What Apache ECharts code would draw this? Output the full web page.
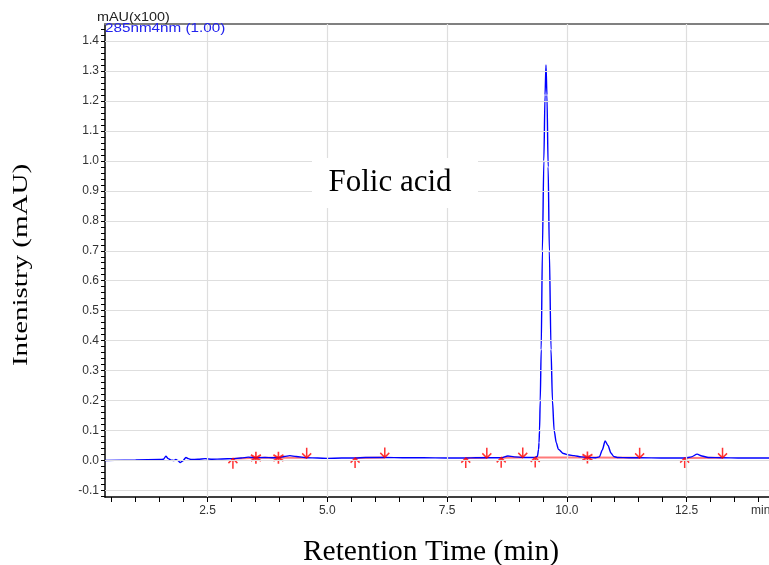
<!DOCTYPE html>
<html><head><meta charset="utf-8">
<script src="https://cdn.jsdelivr.net/npm/echarts@6/dist/echarts.min.js"></script>
<style>html,body{margin:0;padding:0;background:#fff}#c{width:769px;height:565px}</style>
</head><body><div id="c"></div>
<script>
// Chromatogram signal (retention time in min, intensity in mAU x100)
const signalTimes = [0.36, 1.0, 1.5, 1.58, 1.63, 1.68, 1.74, 1.79, 1.84, 1.88, 1.93, 1.98, 2.05, 2.10, 2.16, 2.3, 2.45, 2.6, 2.8,
  3.03, 3.2, 3.35, 3.51, 3.7, 3.85, 3.98, 4.1, 4.22, 4.35, 4.57, 4.8, 5.0, 5.3, 5.58, 5.8, 6.0, 6.2, 6.6, 7.0, 7.5,
  7.89, 8.1, 8.33, 8.5, 8.63, 8.77, 8.9, 9.08, 9.25, 9.34, 9.386, 9.41, 9.42, 9.43, 9.445, 9.465, 9.49, 9.52, 9.545,
  9.565, 9.585, 9.61, 9.635, 9.67, 9.70, 9.735, 9.78, 9.825, 9.93, 10.05, 10.15, 10.3, 10.43, 10.6, 10.68, 10.74,
  10.80, 10.86, 10.92, 10.98, 11.05, 11.3, 11.52, 12.0, 12.46, 12.6, 12.72, 12.82, 12.95, 13.25, 13.6, 14.0, 14.22];
const signalValues = [0.000, 0.002, 0.003, 0.004, 0.014, 0.006, 0.001, 0.000, 0.003, 0.000, -0.007, -0.002, 0.010, 0.006, 0.003, 0.004, 0.006, 0.004, 0.005,
  0.006, 0.008, 0.011, 0.009, 0.010, 0.009, 0.009, 0.013, 0.016, 0.013, 0.009, 0.008, 0.007, 0.008, 0.008, 0.010, 0.010, 0.010, 0.009, 0.009, 0.008,
  0.008, 0.009, 0.009, 0.009, 0.009, 0.015, 0.012, 0.010, 0.010, 0.010, 0.014, 0.037, 0.060, 0.100, 0.200, 0.370, 0.700, 1.000, 1.220,
  1.320, 1.220, 0.980, 0.700, 0.370, 0.200, 0.100, 0.059, 0.037, 0.023, 0.018, 0.016, 0.012, 0.010, 0.009, 0.012, 0.035,
  0.065, 0.050, 0.025, 0.013, 0.010, 0.009, 0.009, 0.008, 0.008, 0.012, 0.021, 0.015, 0.010, 0.009, 0.008, 0.008, 0.008];

// Integration marks
const upMarkTimes = [3.03, 5.58, 7.89, 8.63, 9.34, 12.46];
const upMarkValues = [0.006, 0.008, 0.008, 0.009, 0.010, 0.008];
const downMarkTimes = [4.57, 6.20, 8.33, 9.08, 11.52, 13.25];
const downMarkValues = [0.009, 0.010, 0.009, 0.010, 0.009, 0.009];
const starMarkTimes = [3.51, 3.98, 10.43];
const starMarkValues = [0.009, 0.009, 0.010];

// Integration baselines
const baseStartTimes = [3.03, 3.51, 3.98, 5.58, 7.89, 8.63, 9.34, 10.43, 12.46];
const baseStartValues = [0.006, 0.009, 0.009, 0.008, 0.008, 0.009, 0.010, 0.010, 0.008];
const baseEndTimes = [3.51, 3.98, 4.57, 6.20, 8.33, 9.08, 10.43, 11.52, 13.25];
const baseEndValues = [0.009, 0.009, 0.009, 0.010, 0.009, 0.010, 0.010, 0.009, 0.009];

// Axis ticks
const xLabelTicks = [2.5, 5.0, 7.5, 10.0, 12.5];
const yLabelTicks = [-0.1, 0.0, 0.1, 0.2, 0.3, 0.4, 0.5, 0.6, 0.7, 0.8, 0.9, 1.0, 1.1, 1.2, 1.3, 1.4];
const xMinorTicks = []; for (let k = 1; k <= 28; k++) xMinorTicks.push(+(k * 0.5).toFixed(2));
const yMinorTicks = []; for (let k = -6; k <= 72; k++) yMinorTicks.push(+(k * 0.02).toFixed(2));

const signalData = signalTimes.map((t, i) => [t, signalValues[i]]);
const baseData = [];
baseStartTimes.forEach((t, i) => {
  baseData.push([t, baseStartValues[i]], [baseEndTimes[i], baseEndValues[i]], [baseEndTimes[i], '-']);
});

const chart = echarts.init(document.getElementById('c'), null, {renderer: 'canvas'});
const redMark = {color: 'transparent', borderColor: '#ff0000', borderWidth: 1.6};
chart.setOption({
  animation: false,
  backgroundColor: '#ffffff',
  grid: {left: 105, right: 0, top: 24, bottom: 68, containLabel: false},
  xAxis: [{
    type: 'value', min: 0.36, max: 14.22, position: 'bottom',
    axisLine: {show: true, onZero: false, lineStyle: {color: '#000', width: 1.5}},
    axisTick: {show: true, customValues: xMinorTicks, length: 5, lineStyle: {color: '#000', width: 1}},
    axisLabel: {customValues: xLabelTicks, formatter: v => v.toFixed(1), color: '#333', fontSize: 12,
      fontFamily: 'Liberation Sans, Arial, sans-serif', margin: 8},
    splitLine: {show: false}
  }, {
    type: 'value', min: 0.36, max: 14.22, position: 'top',
    axisLine: {show: true, onZero: false, lineStyle: {color: '#808080', width: 2}},
    axisTick: {show: false}, axisLabel: {show: false}, splitLine: {show: false}
  }],
  yAxis: {
    type: 'value', min: -0.122, max: 1.457,
    axisLine: {show: true, onZero: false, lineStyle: {color: '#000', width: 1.5}},
    axisTick: {show: true, customValues: yMinorTicks, length: 4, lineStyle: {color: '#000', width: 1}},
    axisLabel: {customValues: yLabelTicks, formatter: v => v.toFixed(1), color: '#333', fontSize: 12,
      fontFamily: 'Liberation Sans, Arial, sans-serif', margin: 6},
    splitLine: {show: false}
  },
  graphic: [
    {type: 'rect', z: 50, shape: {x: 312, y: 158, width: 166, height: 50}, style: {fill: '#fff'}},
    {type: 'text', z: 51, x: 390, y: 183, style: {text: 'Folic acid', font: '31px "Liberation Serif", "Times New Roman", serif',
      fill: '#000', textAlign: 'center', textVerticalAlign: 'middle'}},
    {type: 'text', z: 51, x: 431, y: 552, style: {text: 'Retention Time (min)', font: '29.5px "Liberation Serif", "Times New Roman", serif',
      fill: '#000', textAlign: 'center', textVerticalAlign: 'middle'}},
    {type: 'text', z: 51, x: 22, y: 265, rotation: Math.PI / 2, scaleX: 1.45, style: {text: 'Intenistry (mAU)',
      font: '20px "Liberation Serif", "Times New Roman", serif', fill: '#000', textAlign: 'center', textVerticalAlign: 'middle'}},
    {type: 'text', z: 51, x: 97, y: 18, scaleX: 1.2, style: {text: 'mAU(x100)', font: '12px "Liberation Sans", Arial, sans-serif',
      fill: '#222', textAlign: 'left', textVerticalAlign: 'middle'}},
    {type: 'text', z: 51, x: 105, y: 29, scaleX: 1.27, style: {text: '285nm4nm (1.00)', font: '12px "Liberation Sans", Arial, sans-serif',
      fill: '#2222ee', textAlign: 'left', textVerticalAlign: 'middle'}},
    {type: 'text', z: 51, x: 751, y: 511, style: {text: 'min', font: '12px "Liberation Sans", Arial, sans-serif',
      fill: '#333', textAlign: 'left', textVerticalAlign: 'middle'}}
  ],
  series: [
    {
      type: 'line', data: [], z: 1, silent: true,
      markLine: {
        silent: true, symbol: ['none', 'none'], label: {show: false},
        lineStyle: {color: '#dedede', width: 1.2, type: 'solid'},
        data: xLabelTicks.map(v => ({xAxis: v})).concat(yLabelTicks.map(v => ({yAxis: v})))
      }
    },
    {
      type: 'line', data: baseData, z: 2, silent: true, symbol: 'none',
      lineStyle: {color: '#ff4d4d', width: 2, opacity: 0.75}
    },
    {
      type: 'line', data: signalData, z: 3, silent: true, symbol: 'none', smooth: 0.25, smoothMonotone: 'x',
      lineStyle: {color: '#0000ff', width: 1.4}
    },
    {
      type: 'scatter', z: 4, silent: true, data: upMarkTimes.map((t, i) => [t, upMarkValues[i]]),
      symbol: 'path://M5,0 L5,10 M0.5,4.5 L5,0 L9.5,4.5', symbolSize: [9, 10], symbolOffset: [0, 5], itemStyle: redMark
    },
    {
      type: 'scatter', z: 4, silent: true, data: downMarkTimes.map((t, i) => [t, downMarkValues[i]]),
      symbol: 'path://M5,0 L5,10 M0.5,5.5 L5,10 L9.5,5.5', symbolSize: [9, 10], symbolOffset: [0, -5], itemStyle: redMark
    },
    {
      type: 'scatter', z: 4, silent: true, data: starMarkTimes.map((t, i) => [t, starMarkValues[i]]),
      symbol: 'path://M5,0 L5,12 M0,3 L10,9 M0,9 L10,3', symbolSize: [10, 12], itemStyle: {color: 'transparent', borderColor: '#ff0000', borderWidth: 1.8}
    }
  ]
});
</script>
</body></html>
